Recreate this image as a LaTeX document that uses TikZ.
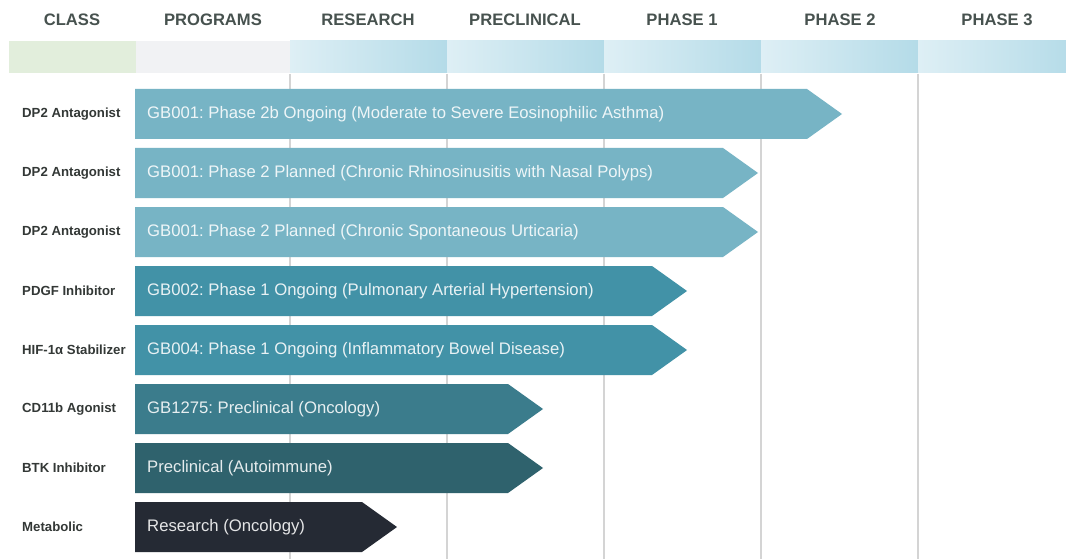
\documentclass[tikz,border=0pt]{standalone}
\usepackage{fontspec}
\setmainfont{Liberation Sans}
\frenchspacing
\usetikzlibrary{positioning}
\definecolor{headtext}{HTML}{47524F}
\definecolor{classtext}{HTML}{333836}
\definecolor{gridgray}{HTML}{D4D4D4}
\definecolor{bandgreen}{HTML}{E2EEDC}
\definecolor{bandgray}{HTML}{F1F2F4}
\definecolor{bandlight}{HTML}{DEEFF5}
\definecolor{banddark}{HTML}{B4DBE8}
\definecolor{stageA}{HTML}{77B4C5}
\definecolor{stageB}{HTML}{4292A7}
\definecolor{stageC}{HTML}{3B7C8C}
\definecolor{stageD}{HTML}{2F626D}
\definecolor{stageE}{HTML}{252A34}
\tikzset{colhead/.style={font=\bfseries\fontsize{16.6}{18}\selectfont,text=headtext},
         classlabel/.style={font=\bfseries\fontsize{13.2}{15}\selectfont,text=classtext,anchor=west,inner sep=0pt},
         progtext/.style={font=\fontsize{16.7}{18}\selectfont,text=white,text opacity=0.88,anchor=west,inner sep=0pt},
         phaseband/.style={left color=bandlight,right color=banddark},
         gridline/.style={draw=gridgray,line width=1.6pt},
         }

\begin{document}
\begin{tikzpicture}[x=1pt,y=-1pt]
\useasboundingbox[fill=white] (0,0) rectangle (1066,559);
\clip (0,0) rectangle (1066,559);
% header band
\fill[bandgreen] (9,41) rectangle (136,73);
\fill[bandgray] (136,41) rectangle (290,73);
\foreach \x in {290,447,604,761,918}
    \shade[phaseband] (\x,41) rectangle (\x+157,73);
\foreach \x/\name [count=\k] in {72/CLASS,213/PROGRAMS,368/RESEARCH,525/PRECLINICAL,682/PHASE 1,840/PHASE 2,997/PHASE 3}
    \node[colhead] (h\k) at (\x,20) {\name};
% stage lines
\foreach \x in {290,447,604,761,918}
    \draw[gridline] (\x,74) -- (\x,559);
% programs
\foreach \i/\tip/\col/\cls/\txt in {
    1/842/stageA/DP2 Antagonist/{GB001: Phase 2b Ongoing (Moderate to Severe Eosinophilic Asthma)},
    2/758/stageA/DP2 Antagonist/{GB001: Phase 2 Planned (Chronic Rhinosinusitis with Nasal Polyps)},
    3/758/stageA/DP2 Antagonist/{GB001: Phase 2 Planned (Chronic Spontaneous Urticaria)},
    4/687/stageB/PDGF Inhibitor/{GB002: Phase 1 Ongoing (Pulmonary Arterial Hypertension)},
    5/687/stageB/HIF-1α Stabilizer/{GB004: Phase 1 Ongoing (Inflammatory Bowel Disease)},
    6/543/stageC/CD11b Agonist/{GB1275: Preclinical (Oncology)},
    7/543/stageD/BTK Inhibitor/{Preclinical (Autoimmune)},
    8/397/stageE/Metabolic/{Research (Oncology)}}
{
    \pgfmathsetmacro\yc{114+59*(\i-1)}
    \fill[\col] (135,\yc-25) -- (\tip-35,\yc-25) -- (\tip,\yc) -- (\tip-35,\yc+25) -- (135,\yc+25) -- cycle;
    \node[progtext] (p\i) at (147,\yc) {\txt};
    \node[classlabel] (c\i) at (22,\yc) {\cls};
}
\end{tikzpicture}
\end{document}
